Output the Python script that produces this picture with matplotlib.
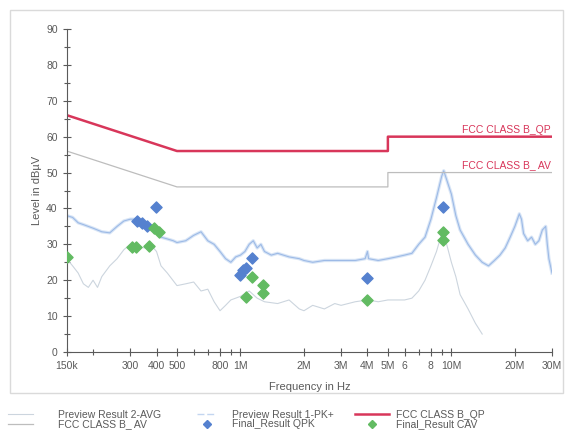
import matplotlib
matplotlib.use("Agg")
import matplotlib.pyplot as plt
import matplotlib.ticker as mticker
from matplotlib.lines import Line2D
from matplotlib.patches import Rectangle
import numpy as np

plt.rcParams['font.family'] = ['Liberation Sans', 'DejaVu Sans']

# 読み取り値 (周波数 MHz, レベル dBuV)
pk_freq = [0.15, 0.16, 0.17, 0.18, 0.20, 0.22, 0.24, 0.26, 0.28, 0.30, 0.32, 0.34, 0.36, 0.38,
           0.40, 0.42, 0.45, 0.48, 0.50, 0.55, 0.60, 0.65, 0.70, 0.75, 0.80, 0.85, 0.90, 0.95,
           1.0, 1.05, 1.1, 1.15, 1.2, 1.25, 1.3, 1.4, 1.5, 1.7, 1.9, 2.0, 2.2, 2.5, 3.0, 3.5,
           3.9, 4.0, 4.05, 4.5, 5.0, 5.5, 6.0, 6.5, 7.0, 7.5, 8.0, 8.5, 9.0, 9.2, 9.5, 10.0,
           10.5, 11.0, 12.0, 13.0, 14.0, 15.0, 16.0, 17.0, 18.0, 19.0, 20.0, 21.0, 21.5, 22.0,
           23.0, 24.0, 25.0, 26.0, 27.0, 28.0, 28.5, 29.0, 30.0]
pk_level = [38, 37.5, 36, 35.5, 34.5, 33.5, 33.2, 35, 36.5, 37, 37, 35.5, 34.5, 34,
            33.5, 32, 31.5, 31, 30.5, 31, 32.5, 33.5, 31, 30, 28, 26, 25, 26.5,
            27, 28, 30, 31, 29, 30, 28, 27, 27.5, 26.5, 26, 25.5, 25, 25.5, 25.5, 25.5,
            26, 28, 26, 25.5, 26, 26.5, 27, 27.5, 30, 32, 37, 43, 49, 50.5, 48, 44,
            38, 34, 30, 27, 25, 24, 25.5, 27, 29, 32, 35, 38.5, 37, 33,
            31, 32, 30, 31, 34, 35, 30, 26, 22]

avg_freq = [0.15, 0.16, 0.17, 0.18, 0.19, 0.20, 0.21, 0.22, 0.24, 0.26, 0.28, 0.30, 0.32, 0.35,
            0.38, 0.40, 0.42, 0.45, 0.50, 0.55, 0.60, 0.65, 0.70, 0.75, 0.80, 0.85, 0.90, 1.0,
            1.1, 1.2, 1.3, 1.5, 1.7, 1.9, 2.0, 2.2, 2.5, 2.8, 3.0, 3.5, 4.0, 4.5, 5.0, 6.0,
            6.5, 7.0, 7.5, 8.0, 8.5, 9.0, 9.5, 10.0, 10.5, 11.0, 12.0, 13.0, 14.0]
avg_level = [26, 24, 22, 19, 18, 20, 18, 21, 24, 26, 28.5, 30, 29.5, 29,
             29.5, 28, 24, 22, 18.5, 19, 19.5, 17, 17.5, 14, 11.5, 13, 14.5, 15.5,
             17, 15, 14, 13.5, 14.5, 12, 11.5, 13, 12, 13.5, 13, 14, 14.5, 14, 14.5, 14.5,
             15, 17, 20, 24, 28, 33, 30, 25, 21, 16, 12, 8, 5]

qp_lim_freq = [0.15, 0.5, 5.0, 5.0, 30.0]
qp_lim_level = [66, 56, 56, 60, 60]
av_lim_freq = [0.15, 0.5, 5.0, 5.0, 30.0]
av_lim_level = [56, 46, 46, 50, 50]

qpk_freq = [0.322, 0.342, 0.360, 0.397, 1.00, 1.03, 1.06, 1.14, 4.0, 9.1]
qpk_level = [36.5, 35.9, 35.0, 40.4, 21.4, 22.8, 23.4, 26.2, 20.5, 40.4]

cav_freq = [0.15, 0.305, 0.32, 0.37, 0.39, 0.41, 1.06, 1.13, 1.28, 1.28, 4.0, 9.1, 9.15]
cav_level = [26.4, 29.3, 29.3, 29.5, 34.5, 33.5, 15.4, 21.0, 18.7, 16.4, 14.5, 33.5, 31.2]

xtick_vals = [0.15, 0.3, 0.4, 0.5, 0.8, 1, 2, 3, 4, 5, 6, 8, 10, 20, 30]
xtick_labels = ["150k", "300", "400", "500", "800", "1M", "2M", "3M", "4M", "5M", "6", "8",
                "10M", "20M", "30M"]
xminor_vals = [0.2, 0.6, 0.7, 0.9, 7, 9]

C_AVG = "#ccd5de"
C_AVLIM = "#bdbdbd"
C_PK = "#9dbae6"
C_QP = "#d8365a"
C_QPK = "#5581cf"
C_CAV = "#62bb62"
C_TXT = "#5a5a5a"

fig = plt.figure(figsize=(5.69, 4.38), dpi=100)
fig.patches.append(Rectangle((10 / 569, 1 - 393 / 438), 553 / 569, 383 / 438,
                             transform=fig.transFigure, fill=False,
                             edgecolor="#dadada", linewidth=1.0))
ax = fig.add_axes([66.7 / 569, 1 - 352 / 438, (552 - 66.7) / 569, (352 - 29) / 438])

ax.plot(avg_freq, avg_level, color=C_AVG, linewidth=0.8)
ax.plot(pk_freq, pk_level, color="#cfdff4", linewidth=2.4, alpha=0.8)
ax.plot(pk_freq, pk_level, color=C_PK, linewidth=0.8)
ax.plot(av_lim_freq, av_lim_level, color=C_AVLIM, linewidth=0.9)
ax.plot(qp_lim_freq, qp_lim_level, color=C_QP, linewidth=1.8)
ax.scatter(qpk_freq, qpk_level, marker="D", s=32, color=C_QPK, zorder=5)
ax.scatter(cav_freq, cav_level, marker="D", s=32, color=C_CAV, zorder=5)

ax.text(29.5, 60.6, "FCC CLASS B_QP", color=C_QP, fontsize=7.5, ha="right", va="bottom")
ax.text(29.5, 50.8, "FCC CLASS B_ AV", color=C_QP, fontsize=7.5, ha="right", va="bottom")

ax.set_xscale("log")
ax.set_xlim(0.15, 30)
ax.set_ylim(0, 90)
ax.xaxis.set_major_locator(mticker.FixedLocator(xtick_vals))
ax.xaxis.set_major_formatter(mticker.FixedFormatter(xtick_labels))
ax.xaxis.set_minor_locator(mticker.FixedLocator(xminor_vals))
ax.xaxis.set_minor_formatter(mticker.NullFormatter())
ax.yaxis.set_major_locator(mticker.MultipleLocator(10))
ax.yaxis.set_minor_locator(mticker.MultipleLocator(5))
ax.tick_params(which="both", direction="inout", colors=C_TXT, labelsize=7.5,
               labelcolor=C_TXT, length=6, width=0.8)
ax.tick_params(which="minor", length=5)
for s in ["top", "right"]:
    ax.spines[s].set_visible(False)
for s in ["left", "bottom"]:
    ax.spines[s].set_color(C_TXT)
    ax.spines[s].set_linewidth(0.8)

ax.set_xlabel("Frequency in Hz", fontsize=8, color=C_TXT, labelpad=8)
ax.set_ylabel("Level in dBµV", fontsize=8, color=C_TXT, labelpad=3)

# 凡例: 3列を個別に配置 (handles, labels, x位置, 線長, 文字間隔)
leg_cols = [
    ([Line2D([], [], color=C_AVG, linewidth=0.8), Line2D([], [], color=C_AVLIM, linewidth=0.9)],
     ["Preview Result 2-AVG", "FCC CLASS B_ AV"], 1 / 569, 2.4, 2.4),
    ([Line2D([], [], color="#c3d6f0", linewidth=1.0, linestyle=(0, (5, 2))),
      Line2D([], [], color=C_QPK, marker="D", linestyle="none", markersize=4)],
     ["Preview Result 1-PK+", "Final_Result QPK"], 190 / 569, 1.8, 1.5),
    ([Line2D([], [], color=C_QP, linewidth=1.8),
      Line2D([], [], color=C_CAV, marker="D", linestyle="none", markersize=4)],
     ["FCC CLASS B_QP", "Final_Result CAV"], 348 / 569, 3.2, 0.7),
]
for hs, ls, x0, hl, tp in leg_cols:
    fig.legend(hs, ls, loc="lower left", bbox_to_anchor=(x0, 0.003),
               frameon=False, fontsize=7.5, labelcolor=C_TXT, handlelength=hl,
               handletextpad=tp, labelspacing=-0.05, borderaxespad=0.3)

fig.savefig("out.png", dpi=100)
